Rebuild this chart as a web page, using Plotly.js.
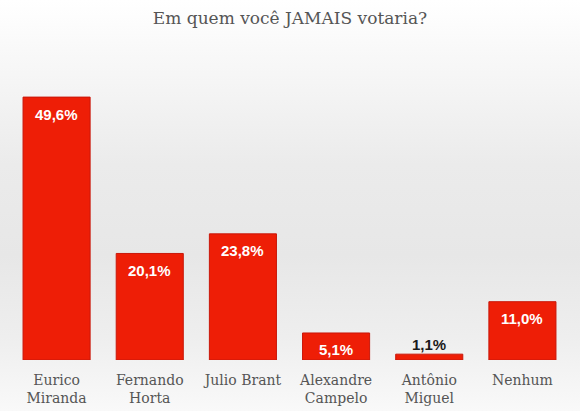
<!DOCTYPE html>
<html>
<head>
<meta charset="utf-8">
<script src="https://cdn.plot.ly/plotly-3.0.1.min.js"></script>
<style>
  html, body { margin: 0; padding: 0; }
  body {
    width: 580px; height: 411px; overflow: hidden;
    background: linear-gradient(to bottom, #ffffff 0%, #f6f6f6 18%, #ebebeb 40%, #e7e7e7 62%, #eeeeee 82%, #f9f9f9 100%);
  }
  #chart { width: 580px; height: 411px; }
</style>
</head>
<body>
<div id="chart"></div>
<script>
const categories = ["Eurico<br>Miranda", "Fernando<br>Horta", "Julio Brant", "Alexandre<br>Campelo", "Antônio<br>Miguel", "Nenhum"];
const values = [49.6, 20.1, 23.8, 5.1, 1.1, 11.0];
const valueLabels = ["49,6%", "20,1%", "23,8%", "5,1%", "1,1%", "11,0%"];
const chartTitle = "Em quem você JAMAIS votaria?";

const outsideIndex = [4];

const annotations = values.map((v, i) => {
  const outside = outsideIndex.includes(i);
  return {
    x: categories[i], y: v, xref: 'x', yref: 'y',
    text: valueLabels[i], showarrow: false,
    yanchor: 'middle', yshift: outside ? 10 : -17,
    font: { family: 'Liberation Sans, Arial, sans-serif', size: 15, color: outside ? '#1a1a1a' : '#ffffff', weight: 'bold' }
  };
});

const trace = {
  type: 'bar', x: categories, y: values,
  marker: { color: '#ee1e06', line: { color: '#c9170a', width: 1 } },
  hoverinfo: 'none'
};

const layout = {
  width: 580, height: 411,
  margin: { l: 10, r: 11, t: 60, b: 51 },
  paper_bgcolor: 'rgba(0,0,0,0)', plot_bgcolor: 'rgba(0,0,0,0)',
  bargap: 0.28,
  showlegend: false,
  title: {
    text: chartTitle, x: 0.5, xanchor: 'center', y: 1 - 18 / 411, yanchor: 'middle', yref: 'container',
    font: { family: 'DejaVu Serif, serif', size: 17, color: '#555555' }
  },
  xaxis: {
    showline: false, showgrid: false, zeroline: false, ticks: '',
    ticklabelstandoff: 10,
    tickfont: { family: 'DejaVu Serif, serif', size: 14, color: '#555555' }
  },
  yaxis: { visible: false, range: [0, 56.6], fixedrange: true },
  annotations: annotations
};

Plotly.newPlot('chart', [trace], layout, { displayModeBar: false, staticPlot: true });
</script>
</body>
</html>
